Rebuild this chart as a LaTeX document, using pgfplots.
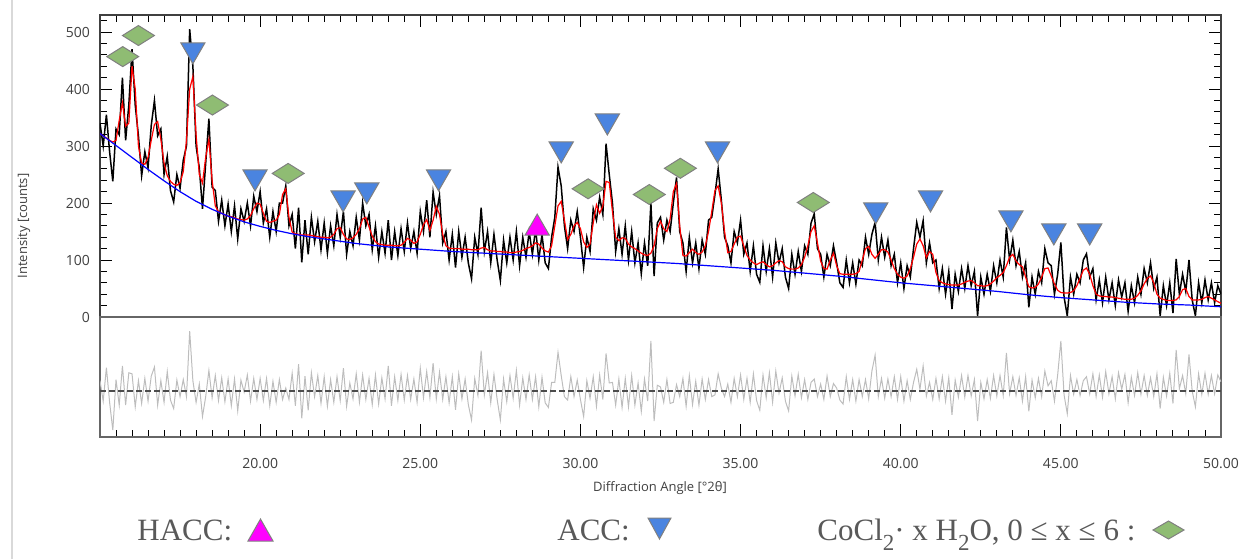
\documentclass[border=0pt]{standalone}
\usepackage{pgfplots}
\pgfplotsset{compat=1.18}
\usepackage{pgfplotstable}
\usepackage{fontspec}
\setmainfont{Liberation Serif}
\newfontfamily\osans{Open Sans}
\definecolor{cgreen}{HTML}{8FBC73}
\definecolor{cblue}{HTML}{4A84E0}
\definecolor{cmag}{HTML}{FF00FF}
\definecolor{cedge}{HTML}{808080}
\definecolor{cres}{HTML}{BDBDBD}
\definecolor{ctxt}{HTML}{404040}
\definecolor{clegtxt}{HTML}{595959}
\newcommand{\lsub}[1]{\raisebox{-5pt}{\fontsize{11.5}{12}\selectfont #1}}

\pgfplotstableread{
x obs fit
15.0 340 322
15.1 300 318
15.2 355 314
15.3 290 310
15.4 238 307
15.5 330 310
15.6 320 345
15.7 420 376
15.8 310 335
15.9 372 340
16.0 470 440
16.1 372 400
16.2 318 300
16.3 248 270
16.4 290 268
16.5 262 280
16.6 336 310
16.7 380 338
16.8 318 343
16.9 330 312
17.0 250 270
17.1 282 248
17.2 222 238
17.3 202 233
17.4 250 231
17.5 226 236
17.6 275 255
17.7 300 310
17.8 505 400
17.9 440 422
18.0 300 320
18.1 262 250
18.2 190 235
18.3 270 280
18.4 348 312
18.5 228 240
18.6 222 195
18.7 168 185
18.8 205 182
18.9 160 179
19.0 198 177
19.1 150 176
19.2 195 174
19.3 137 172
19.4 190 171
19.5 168 170
19.6 200 172
19.7 160 178
19.8 212 190
19.9 185 200
20.0 220 198
20.1 165 182
20.2 190 168
20.3 140 166
20.4 185 168
20.5 150 170
20.6 200 180
20.7 200 215
20.8 230 225
20.9 160 175
21.0 180 149
21.1 120 146
21.2 192 145
21.3 96 144
21.4 170 144
21.5 110 144
21.6 175 143
21.7 132 142
21.8 168 141
21.9 118 140
22.0 165 140
22.1 112 139
22.2 160 140
22.3 125 145
22.4 180 155
22.5 140 157
22.6 185 145
22.7 110 137
22.8 150 136
22.9 125 139
23.0 175 145
23.1 135 155
23.2 200 172
23.3 160 175
23.4 180 158
23.5 118 142
23.6 160 132
23.7 105 128
23.8 150 127
23.9 112 126
24.0 170 126
24.1 100 126
24.2 150 125
24.3 108 125
24.4 155 126
24.5 115 131
24.6 165 138
24.7 120 135
24.8 150 129
24.9 112 132
25.0 185 145
25.1 150 162
25.2 205 171
25.3 140 152
25.4 219 170
25.5 180 194
25.6 213 180
25.7 130 145
25.8 150 125
25.9 100 121
26.0 145 120
26.1 87 120
26.2 150 120
26.3 105 119
26.4 140 119
26.5 95 119
26.6 67 118
26.7 140 118
26.8 110 118
26.9 192 121
27.0 115 122
27.1 150 118
27.2 95 116
27.3 145 116
27.4 100 115
27.5 64 115
27.6 135 114
27.7 95 114
27.8 140 113
27.9 100 113
28.0 150 114
28.1 90 115
28.2 140 117
28.3 105 120
28.4 150 122
28.5 110 125
28.6 155 130
28.7 100 128
28.8 145 121
28.9 95 116
29.0 85 114
29.1 140 125
29.2 175 160
29.3 263 195
29.4 230 203
29.5 160 170
29.6 120 136
29.7 170 145
29.8 150 160
29.9 185 166
30.0 140 155
30.1 87 132
30.2 140 122
30.3 115 128
30.4 190 165
30.5 170 197
30.6 210 182
30.7 180 195
30.8 304 238
30.9 250 236
31.0 200 185
31.1 115 140
31.2 155 134
31.3 110 139
31.4 160 138
31.5 100 128
31.6 150 123
31.7 95 120
31.8 130 116
31.9 76 112
32.0 130 109
32.1 90 108
32.2 200 112
32.3 72 125
32.4 165 155
32.5 175 168
32.6 135 155
32.7 170 150
32.8 150 172
32.9 200 220
33.0 245 234
33.1 150 160
33.2 130 108
33.3 80 107
33.4 140 113
33.5 95 119
33.6 130 113
33.7 85 110
33.8 135 114
33.9 110 125
34.0 170 150
34.1 175 185
34.2 215 222
34.3 260 230
34.4 205 200
34.5 140 150
34.6 125 113
34.7 95 115
34.8 150 128
34.9 130 140
35.0 170 142
35.1 110 125
35.2 130 108
35.3 80 100
35.4 125 95
35.5 75 92
35.6 61 95
35.7 125 97
35.8 80 92
35.9 120 88
36.0 70 90
36.1 130 95
36.2 95 99
36.3 120 97
36.4 70 88
36.5 50 85
36.6 110 84
36.7 75 84
36.8 115 86
36.9 80 92
37.0 125 105
37.1 110 125
37.2 165 150
37.3 181 160
37.4 120 130
37.5 110 98
37.6 70 85
37.7 110 84
37.8 90 100
37.9 125 112
38.0 95 90
38.1 60 76
38.2 52 75
38.3 100 75
38.4 60 75
38.5 95 75
38.6 58 76
38.7 100 80
38.8 90 100
38.9 140 120
39.0 110 124
39.1 145 110
39.2 166 103
39.3 100 110
39.4 140 118
39.5 105 118
39.6 135 114
39.7 90 100
39.8 110 85
39.9 60 75
40.0 95 70
40.1 50 68
40.2 90 72
40.3 70 85
40.4 120 105
40.5 166 128
40.6 140 137
40.7 169 125
40.8 95 104
40.9 130 115
41.0 95 110
41.1 100 78
41.2 50 64
41.3 85 60
41.4 40 58
41.5 80 57
41.6 14 56
41.7 75 56
41.8 45 56
41.9 85 58
42.0 50 61
42.1 90 63
42.2 55 64
42.3 80 60
42.4 2 55
42.5 70 55
42.6 40 54
42.7 75 55
42.8 45 58
42.9 90 63
43.0 60 69
43.1 100 73
43.2 70 78
43.3 157 90
43.4 100 105
43.5 135 110
43.6 90 98
43.7 115 92
43.8 70 88
43.9 95 70
44.0 17 53
44.1 70 51
44.2 40 52
44.3 80 58
44.4 60 70
44.5 120 85
44.6 95 86
44.7 90 72
44.8 40 58
44.9 75 47
45.0 131 43
45.1 35 42
45.2 2 42
45.3 70 43
45.4 40 46
45.5 75 55
45.6 60 68
45.7 100 82
45.8 111 86
45.9 70 75
46.0 85 55
46.1 30 40
46.2 65 37
46.3 25 36
46.4 70 36
46.5 30 35
46.6 60 35
46.7 20 34
46.8 65 33
46.9 35 32
47.0 60 31
47.1 10 31
47.2 55 31
47.3 25 33
47.4 70 38
47.5 40 46
47.6 85 58
47.7 60 68
47.8 95 72
47.9 50 60
48.0 70 40
48.1 2 33
48.2 55 31
48.3 20 29
48.4 60 29
48.5 7 29
48.6 102 30
48.7 40 36
48.8 75 48
48.9 45 50
49.0 100 36
49.1 30 30
49.2 2 30
49.3 60 30
49.4 25 31
49.5 65 34
49.6 30 36
49.7 60 33
49.8 25 30
49.9 55 27
50.0 40 24
}\xrd

\pgfplotstableread{
x bg
15.0 322
15.5 301
16.0 280
16.5 259
17.0 239
17.5 220
18.0 203
18.5 189
19.0 177
19.5 167
20.0 159
20.5 152
21.0 146
21.5 141
22.0 137
22.5 133
23.0 129
23.5 126
24.0 123
24.5 121
25.0 119
26.0 115
27.0 112
28.0 109
29.0 106
30.0 103
31.0 100
32.0 97
33.0 94
34.0 90
35.0 86
36.0 82
37.0 77
38.0 72
39.0 66
40.0 60
41.0 55
42.0 50
43.0 45
44.0 39
45.0 34
46.0 30
47.0 26
48.0 23
49.0 21
50.0 18
}\bgtab

\begin{document}
\begin{tikzpicture}
\useasboundingbox (0pt,0pt) rectangle (620.5pt,279.5pt);
\draw[color=black!15, line width=1pt] (6pt,0pt) -- (6pt,279.5pt);

\begin{axis}[
  at={(50pt,121pt)}, anchor=south west,
  scale only axis, width=560.5pt, height=151pt,
  xmin=15, xmax=50, ymin=0, ymax=530,
  axis line style={draw=black!75, line width=0.8pt},
  tick align=inside,
  xtick={15,20,...,50}, xticklabels={},
  minor xtick={15.5,16,...,49.5},
  xtick pos=right,
  ytick={0,100,...,500}, yticklabels={0,100,200,300,400,500},
  minor ytick={20,40,...,520},
  ytick pos=both,
  major tick length=6pt, minor tick length=3.5pt,
  every tick/.style={black, line width=0.5pt},
  yticklabel style={font=\osans\fontsize{7}{8}\selectfont, text=ctxt, xshift=-1.5pt},
]
\addplot[black, line width=0.75pt] table[x=x, y=obs] {\xrd};
\addplot[red, line width=0.6pt] table[x=x, y=fit] {\xrd};
\addplot[blue, line width=0.6pt] table[x=x, y=bg] {\bgtab};
\addplot[only marks, mark=diamond*, mark size=5pt,
  mark options={xscale=2.13, fill=cgreen, draw=cedge, line width=0.5pt}]
  coordinates {(15.71,457) (16.20,494) (18.51,372) (20.875,252) (30.24,225) (32.15,215) (33.12,261) (37.27,201)};
\addplot[only marks, mark=triangle*, mark size=7pt,
  mark options={rotate=180, fill=cblue, draw=cedge, line width=0.5pt}]
  coordinates {(17.90,469) (19.84,246) (22.59,209) (23.33,223) (25.57,246) (29.40,295) (30.84,344) (34.28,295) (39.22,188) (40.93,209) (43.44,174) (44.78,151) (45.90,151)};
\addplot[only marks, mark=triangle*, mark size=7pt,
  mark options={fill=cmag, draw=cedge, line width=0.5pt}]
  coordinates {(28.65,156)};
\end{axis}

\begin{axis}[
  at={(50pt,61pt)}, anchor=south west,
  scale only axis, width=560.5pt, height=60pt,
  xmin=15, xmax=50, ymin=-81, ymax=130,
  axis line style={draw=black!60, line width=0.8pt},
  tick align=inside,
  xtick={15,20,...,50}, xticklabels={,20.00,25.00,30.00,35.00,40.00,45.00,50.00},
  minor xtick={15.5,16,...,49.5},
  xtick pos=left, ytick=\empty,
  major tick length=6.5pt, minor tick length=3.5pt,
  every tick/.style={black, line width=0.5pt},
  xticklabel style={font=\osans\fontsize{7}{8}\selectfont, text=ctxt, yshift=-7pt},
]
\addplot[cres, line width=0.5pt] table[x=x, y expr=\thisrow{obs}-\thisrow{fit}] {\xrd};
\addplot[black!70, dash pattern=on 3pt off 1.5pt, line width=0.6pt] coordinates {(15,0) (50,0)};
\end{axis}

\node[rotate=90, font=\osans\fontsize{6.5}{8}\selectfont, text=ctxt] at (12pt,166.5pt) {Intensity [counts]};
\node[font=\osans\fontsize{6.5}{8}\selectfont, text=ctxt] at (330pt,35.5pt) {Diffraction Angle [°2θ]};

\node[anchor=base west, inner sep=0pt, font=\fontsize{15.5}{18}\selectfont, text=clegtxt] at (68.5pt,9.5pt) {HACC:};
\filldraw[fill=cmag, draw=cedge, line width=0.5pt] (124pt,9pt) -- (136.5pt,9pt) -- (130.25pt,20pt) -- cycle;
\node[anchor=base west, inner sep=0pt, font=\fontsize{15.5}{18}\selectfont, text=clegtxt] at (278.5pt,9.5pt) {ACC:};
\filldraw[fill=cblue, draw=cedge, line width=0.5pt] (324pt,20.5pt) -- (335.5pt,20.5pt) -- (329.75pt,10pt) -- cycle;
\node[anchor=base west, inner sep=0pt, font=\fontsize{15.5}{18}\selectfont, text=clegtxt] at (408.5pt,9.5pt) {CoCl\lsub{2}· x H\lsub{2}O, 0 ≤ x ≤ 6 :};
\filldraw[fill=cgreen, draw=cedge, line width=0.5pt] (576.5pt,14.5pt) -- (584.25pt,19pt) -- (592pt,14.5pt) -- (584.25pt,10pt) -- cycle;
\end{tikzpicture}
\end{document}
